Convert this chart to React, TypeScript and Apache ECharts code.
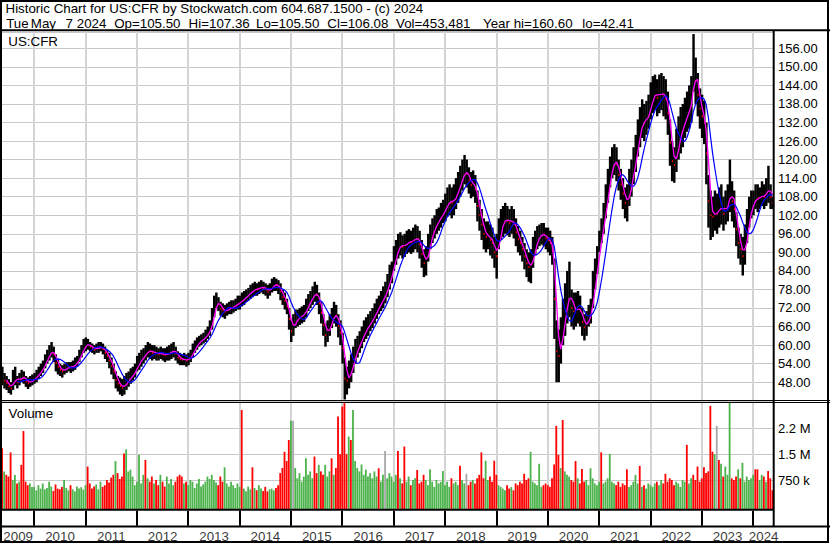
import React, { useEffect, useRef } from "react";
import * as echarts from "echarts";

// ---------------- data (semi-monthly points) ----------------
const years = [2009, 2010, 2011, 2012, 2013, 2014, 2015, 2016, 2017, 2018, 2019, 2020, 2021, 2022, 2023, 2024];
const firstPoint = 2009.375; // mid-May 2009
const pointStep = 1 / 24; // half a month

const h2009 = [53, 51, 50, 49, 48, 52, 53, 50, 51, 52, 51.5, 50, 49.5, 50, 50.5];
const l2009 = [47, 46, 45.5, 44.5, 44, 45.5, 47, 46, 47, 48, 47.5, 46.5, 45.8, 46.5, 47];
const v2009 = [1670, 1000, 900, 850, 1550, 750, 900, 650, 700, 1190, 2170, 700, 600, 650, 550];

const h2010 = [51, 52, 53, 54, 55, 57, 58.5, 60, 61, 59.5, 57, 55.5, 54, 53.5, 54, 54.5, 54.5, 54.5, 55, 56, 56.5, 58.5, 60, 62];
const l2010 = [47.5, 48, 49, 50, 51, 52.5, 54, 55, 56, 54.5, 51.5, 50.5, 50, 49.5, 50.5, 51, 51.5, 51, 51.5, 52, 53, 54.5, 56, 57.5];
const v2010 = [550, 450, 600, 500, 650, 480, 520, 700, 560, 430, 620, 500, 480, 550, 750, 520, 450, 600, 480, 420, 560, 500, 540, 470];

const h2011 = [62.5, 62, 61, 60.5, 60, 60.5, 61, 61, 60.5, 59.5, 58.5, 57.5, 56, 54, 51.5, 50, 49.5, 49, 50, 51, 51.5, 52.5, 53, 54];
const l2011 = [58, 58.5, 58, 57.5, 57, 57.5, 57.5, 58, 57, 55.5, 54.5, 52.5, 50.5, 49, 46, 45, 44, 43.5, 44, 45.5, 46.5, 47.5, 48.5, 49.5];
const v2011 = [600, 1140, 650, 500, 560, 620, 480, 700, 550, 600, 750, 680, 820, 900, 1300, 950, 780, 850, 1520, 1640, 1000, 1050, 850, 600];

const h2012 = [56.5, 57.5, 58.5, 59, 60, 61, 60.5, 60, 60, 59.5, 59, 59.5, 59, 59, 59.5, 60, 60.5, 61, 59.5, 58, 57.5, 57, 57.5, 57];
const l2012 = [51.5, 52, 53, 54, 55, 56, 55.5, 55, 55.5, 55, 55, 55.5, 55, 54.5, 55, 55, 55.5, 56, 55, 54, 53.5, 53.5, 53.5, 53];
const v2012 = [700, 1480, 650, 900, 1330, 800, 700, 850, 650, 750, 600, 900, 700, 560, 850, 650, 780, 600, 700, 850, 900, 850, 650, 700];

const h2013 = [57.5, 58.5, 60.5, 61.5, 62.5, 63, 63.5, 64, 65, 66, 68, 72, 76, 77, 75.5, 74, 73.5, 73, 73.5, 74, 74.5, 74.5, 75, 76];
const l2013 = [53.5, 54.5, 56, 57.5, 58.5, 59.5, 60, 60.5, 61, 62, 63, 65, 69, 72, 71, 69.5, 69, 68.5, 69.5, 70, 70, 70.5, 71, 71.5];
const v2013 = [600, 750, 700, 520, 650, 780, 560, 620, 700, 850, 780, 900, 750, 680, 600, 850, 700, 1120, 650, 560, 700, 600, 520, 650];

const h2014 = [76, 77, 77.5, 78, 78.5, 79.5, 80, 80.5, 80, 80.5, 81, 80.5, 80, 79.5, 80, 81.5, 82, 81.5, 81, 80, 78, 77, 75, 72];
const l2014 = [71.5, 72.5, 73, 74, 74.5, 75, 75.5, 76, 76, 76.5, 77, 76.5, 76, 75, 76, 77, 77.5, 77.5, 76.5, 74.5, 73, 71.5, 70, 65];
const v2014 = [550, 2780, 500, 420, 560, 480, 1120, 520, 450, 600, 500, 430, 550, 420, 480, 500, 450, 520, 600, 950, 1100, 1570, 1300, 1910];

const h2015 = [68, 70, 71.5, 71.5, 72, 72.5, 73, 75, 76.5, 77.5, 79, 80.5, 79.5, 77, 74, 70, 67, 68, 70, 72, 74, 73, 70, 68];
const l2015 = [61, 63, 65.5, 66, 66.5, 67, 67.5, 69, 71, 72, 73, 74, 73, 70, 67, 63, 59.5, 61, 63, 65.5, 67, 66, 62.5, 60];
const v2015 = [2470, 2470, 1100, 800, 950, 700, 850, 1380, 900, 1000, 800, 1430, 950, 1190, 1000, 900, 1190, 850, 1000, 1380, 900, 1100, 2590, 1500];

const h2016 = [64, 56, 53, 55, 57, 59.5, 62, 63, 64.5, 66, 68, 69, 70, 71, 72, 73.5, 75, 76, 77.5, 79, 80.5, 83, 86, 87];
const l2016 = [54, 42.4, 44, 46, 48, 51, 54, 56, 57.5, 59, 61, 62, 63, 64.5, 65.5, 67, 68.5, 70, 71, 72, 73.5, 75.5, 78, 80];
const v2016 = [2880, 2980, 1500, 2010, 1910, 2780, 1300, 1100, 1000, 1200, 900, 1050, 850, 950, 800, 1000, 850, 1090, 700, 900, 1590, 800, 950, 850];

const h2017 = [92, 94, 96, 96.5, 95.5, 96, 97, 97.5, 97, 98, 99, 98.5, 97, 94, 91, 92, 96, 99, 101, 102, 104, 104.5, 106, 107];
const l2017 = [84, 86, 88, 89, 88, 88.5, 89.5, 90, 89.5, 90, 91, 90, 88, 85, 82, 82.5, 87, 91, 93, 94.5, 96, 97, 98, 99.5];
const v2017 = [700, 900, 1590, 800, 650, 1720, 700, 850, 600, 750, 800, 1040, 650, 700, 900, 750, 600, 1060, 700, 550, 750, 650, 700, 1010];

const h2018 = [109, 111, 112, 111, 112, 114, 116, 118, 120, 121.5, 120, 117.5, 116, 116.5, 115, 110, 107, 104, 101, 100, 100, 99, 98, 95];
const l2018 = [100, 101.5, 102, 101, 102, 104, 106, 108, 110, 112, 111, 109, 107.5, 108, 106, 100, 97, 94, 91, 90, 91, 89, 88, 85];
const v2018 = [600, 700, 550, 800, 650, 700, 600, 1160, 750, 650, 930, 600, 700, 750, 650, 800, 900, 1550, 800, 1310, 750, 850, 700, 1310];

const h2019 = [96, 101, 104, 105, 106, 105, 104, 105, 104, 101, 98.5, 97, 95, 93, 91, 90, 91, 95, 97, 98.5, 99, 99.5, 99.5, 98];
const l2019 = [81.5, 91, 94, 95, 96, 95.5, 95, 96, 94.5, 92, 90, 89, 87, 84.5, 82, 80.5, 80, 85, 89, 91, 92, 92.5, 92, 91];
const v2019 = [900, 600, 550, 500, 450, 600, 500, 550, 450, 650, 600, 700, 650, 930, 750, 800, 1570, 700, 650, 600, 1220, 550, 600, 650];

const h2020 = [98, 97, 95, 88, 68, 65, 69, 75, 80, 84, 87, 78, 77, 77, 77.5, 76, 72, 70, 71, 73, 75, 84, 88, 92];
const l2020 = [90, 89, 86, 62, 48, 48, 54, 60, 63, 67, 69, 66, 65, 66, 67, 66, 63, 61.5, 63, 66, 67, 72, 78, 83];
const v2020 = [600, 550, 800, 1200, 2320, 1480, 1100, 2490, 1000, 900, 850, 750, 700, 1300, 800, 650, 1070, 700, 750, 600, 1090, 800, 650, 600];

const h2021 = [97, 101, 106, 112, 117, 121, 124, 125, 124, 120, 117, 114, 111, 112, 117, 120, 124, 128, 133, 137, 139.5, 138, 139, 141];
const l2021 = [90, 93, 96, 101, 106, 111, 114, 115, 113, 110, 107, 104, 101, 100, 105, 108, 112, 116, 121, 124, 127, 126, 128, 130];
const v2021 = [700, 1550, 650, 700, 800, 1510, 700, 650, 600, 700, 550, 650, 600, 1060, 550, 600, 700, 900, 650, 1160, 550, 600, 500, 650];

const h2022 = [145, 147, 147.5, 146, 147.5, 148, 147, 146, 142, 133, 126, 124, 130, 134, 137, 138, 140, 142, 144, 147, 160.6, 153, 148, 143];
const l2022 = [133, 135, 136, 134, 135, 136, 134, 133, 128, 118, 113, 112.5, 116, 120, 122, 124, 127, 129, 130, 132, 142, 138, 134, 130];
const v2022 = [600, 550, 650, 700, 600, 750, 650, 930, 700, 800, 750, 600, 700, 650, 550, 750, 700, 1770, 650, 800, 900, 750, 1140, 700];

const h2023 = [141, 139, 132, 115, 110, 108, 110, 109, 111, 112, 108, 110, 112, 120, 113, 110, 103, 98, 96, 95, 99, 104, 108, 110];
const l2023 = [127, 125, 112, 98, 94, 95, 97, 96, 98, 99, 97, 99, 100, 103, 100, 98, 92, 88, 86, 82.5, 86, 93, 98, 101];
const v2023 = [800, 1120, 950, 1000, 2900, 1570, 1500, 2320, 1330, 1220, 850, 1140, 900, 3000, 800, 750, 850, 1060, 800, 1250, 700, 850, 750, 800];

const h2024 = [110, 112, 112, 111, 113, 112, 114, 118, 112, 108];
const l2024 = [102, 104, 103, 104, 105, 104, 105, 106, 104, 104];
const v2024 = [900, 1060, 1060, 750, 900, 850, 700, 1010, 800, 453];

// volume bar colours (point indexes)
const greenVolIdx = [1, 53, 58, 64, 104, 135, 142, 148, 151, 162, 164, 200, 206, 226, 247, 251, 275, 284, 333, 336, 338, 340, 344, 346];
const grayVolIdx = [136, 179, 217, 334];
const redVolIdx = [0, 4, 9, 10, 40, 57, 67, 112, 117, 132, 134, 146, 154, 157, 159, 160, 163, 176, 185, 188, 194, 214, 224, 230, 244, 259, 260, 262, 268, 271, 280, 292, 298, 310, 320, 323, 325, 328, 331, 332, 335, 352, 353, 358];

const volTickValues = [750000, 1500000, 2250000];
const volTickLabels = ["750 k", "1.5 M", "2.2 M"];

const headerLine1 = "Historic Chart for US:CFR by Stockwatch.com 604.687.1500 - (c) 2024";
const headerParts = ["Tue", "May", "7", "2024", "Op=105.50", "Hi=107.36", "Lo=105.50", "Cl=106.08", "Vol=453,481", "Year hi=160.60", "lo=42.41"];
const headerPartX = [6.2, 30.8, 65.6, 76.8, 114.2, 188.6, 256, 327.3, 396, 483, 582.3];

// ---------------- derived ----------------
const high = [...h2009, ...h2010, ...h2011, ...h2012, ...h2013, ...h2014, ...h2015, ...h2016, ...h2017, ...h2018, ...h2019, ...h2020, ...h2021, ...h2022, ...h2023, ...h2024];
const low = [...l2009, ...l2010, ...l2011, ...l2012, ...l2013, ...l2014, ...l2015, ...l2016, ...l2017, ...l2018, ...l2019, ...l2020, ...l2021, ...l2022, ...l2023, ...l2024];
const volumeK = [...v2009, ...v2010, ...v2011, ...v2012, ...v2013, ...v2014, ...v2015, ...v2016, ...v2017, ...v2018, ...v2019, ...v2020, ...v2021, ...v2022, ...v2023, ...v2024];
const times = high.map((_, i) => firstPoint + i * pointStep);
const mids = high.map((h, i) => (h + low[i]) / 2);

function movingAverage(n: number) {
  const out: number[][] = [];
  for (let i = n - 1; i < mids.length; i++) {
    let s = 0;
    for (let j = i - n + 1; j <= i; j++) s += mids[j];
    out.push([times[i], s / n]);
  }
  return out;
}

const FONT = '"Liberation Sans", Arial, Helvetica, sans-serif';
const GRID_LEFT = 2;
const GRID_RIGHT = 56;
const X_MIN = 2009.371;
const X_MAX = 2024.403;
const GRID_COLOR = "#c8c8c8";
const RED = "#ff0000";
const GREEN = "#4db34d";
const GRAY = "#a8a8a8";

function volColor(i: number) {
  if (greenVolIdx.includes(i)) return GREEN;
  if (grayVolIdx.includes(i)) return GRAY;
  if (redVolIdx.includes(i)) return RED;
  if (i === 0) return RED;
  return mids[i] >= mids[i - 1] ? GREEN : RED;
}

// series holding the year separators: one item per year boundary (index into the point list)
const yearStartIdx = years.slice(1).map((y) => Math.round((y - firstPoint) / pointStep)).filter((k) => k >= 0 && k < times.length);

function yearSeparatorSeries(gridIndex: number, color: string, z: number) {
  return {
    type: "custom",
    xAxisIndex: gridIndex,
    yAxisIndex: gridIndex,
    z,
    silent: true,
    data: yearStartIdx.map((k, j) => [times[k], 0.5, years[j + 1]]),
    encode: { x: 0 },
    renderItem: (params: any, api: any) => {
      const cs = params.coordSys;
      const px = api.coord([api.value(0), 0])[0];
      const x = Math.round(px) - 1;
      return {
        type: "rect",
        shape: { x, y: cs.y, width: 2, height: cs.height },
        style: { fill: color },
      };
    },
  };
}

function buildOption(): any {
  const priceData = times.map((t, i) => [t, low[i], high[i], i > 0 && mids[i] < mids[i - 1] ? 1 : 0]);
  const volData = times.map((t, i) => [t, volumeK[i] * 1000, i]);
  const yearData = years.map((y) => {
    const a = Math.max(y, X_MIN);
    const b = Math.min(y + 1, X_MAX);
    return [(a + b) / 2, 0.5, y];
  });

  const xAxisBase = (gridIndex: number) => ({
    type: "value",
    gridIndex,
    min: X_MIN,
    max: X_MAX,
    axisLine: { show: false },
    axisTick: { show: false },
    axisLabel: { show: false },
    splitLine: { show: false },
  });

  const txt = (text: string, x: number, y: number, size = 13.33) => ({
    type: "text",
    z: 110,
    x,
    y,
    style: { text, fill: "#000", font: `${size}px ${FONT}`, align: "left", verticalAlign: "middle" },
  });
  const ln = (x1: number, y1: number, x2: number, y2: number, w: number) => ({
    type: "line",
    z: 105,
    shape: { x1, y1, x2, y2 },
    style: { stroke: "#000", lineWidth: w },
  });

  const gridBase = { left: GRID_LEFT, right: GRID_RIGHT, containLabel: false };

  return {
    animation: false,
    backgroundColor: "#ffffff",
    grid: [
      { ...gridBase, top: 32, height: 368.75 },
      { ...gridBase, top: 402.45, height: 103.4 },
      { ...gridBase, top: 510.7, height: 15 },
      { ...gridBase, top: 529, height: 14 },
    ],
    xAxis: [xAxisBase(0), xAxisBase(1), xAxisBase(2), xAxisBase(3)],
    yAxis: [
      {
        type: "value",
        gridIndex: 0,
        position: "right",
        min: 42,
        max: 161.27,
        interval: 6,
        axisLine: { show: false },
        axisTick: { show: false },
        axisLabel: {
          show: true,
          margin: 4,
          color: "#000",
          fontFamily: FONT,
          fontSize: 13,
          formatter: (v: number) => (v > 47 && v < 157 ? v.toFixed(2) : ""),
        },
        splitLine: { show: true, lineStyle: { color: GRID_COLOR, width: 1 } },
      },
      {
        type: "value",
        gridIndex: 1,
        position: "right",
        min: 0,
        max: 3000000,
        interval: 750000,
        axisLine: { show: false },
        axisTick: { show: false },
        axisLabel: {
          show: true,
          margin: 4,
          color: "#000",
          fontFamily: FONT,
          fontSize: 13,
          formatter: (v: number) => {
            const i = volTickValues.indexOf(v);
            return i >= 0 ? volTickLabels[i] : "";
          },
        },
        splitLine: { show: true, showMinLine: false, showMaxLine: false, lineStyle: { color: GRID_COLOR, width: 1 } },
      },
      { type: "value", gridIndex: 2, min: 0, max: 1, show: false, splitLine: { show: false } },
      { type: "value", gridIndex: 3, min: 0, max: 1, show: false, splitLine: { show: false } },
    ],
    series: [
      yearSeparatorSeries(0, "#d4d4d4", 2),
      yearSeparatorSeries(1, "#d4d4d4", 2),
      yearSeparatorSeries(2, "#000", 5),
      {
        type: "custom",
        xAxisIndex: 0,
        yAxisIndex: 0,
        z: 2,
        silent: true,
        data: priceData,
        encode: { x: 0, y: [1, 2] },
        renderItem: (params: any, api: any) => {
          const t = api.value(0);
          const lo = api.value(1);
          const hi = api.value(2);
          const dn = api.value(3);
          const pTop = api.coord([t, hi]);
          const pBot = api.coord([t, lo]);
          const w = api.size([pointStep, 0])[0];
          const children: any[] = [
            {
              type: "rect",
              shape: { x: pTop[0] - w / 2, y: pTop[1], width: w + 0.3, height: Math.max(1, pBot[1] - pTop[1]) },
              style: { fill: "#000" },
            },
          ];
          if (dn) {
            const pm = api.coord([t, (hi + lo) / 2]);
            children.push({
              type: "rect",
              shape: { x: pTop[0] + w / 2 - 1.2, y: pm[1] - 1, width: 1.6, height: 2 },
              style: { fill: RED },
            });
          }
          return { type: "group", children };
        },
      },
      {
        type: "line",
        xAxisIndex: 0,
        yAxisIndex: 0,
        z: 3,
        silent: true,
        showSymbol: false,
        data: movingAverage(3),
        lineStyle: { color: "#ff00ff", width: 1.3 },
      },
      {
        type: "line",
        xAxisIndex: 0,
        yAxisIndex: 0,
        z: 4,
        silent: true,
        showSymbol: false,
        data: movingAverage(8),
        lineStyle: { color: "#0000ff", width: 1.2 },
      },
      {
        type: "custom",
        xAxisIndex: 1,
        yAxisIndex: 1,
        z: 2,
        silent: true,
        data: volData,
        encode: { x: 0, y: 1 },
        renderItem: (params: any, api: any) => {
          const t = api.value(0);
          const v = api.value(1);
          const idx = api.value(2);
          const p = api.coord([t, v]);
          const base = params.coordSys.y + params.coordSys.height + 3.2;
          const w = api.size([pointStep, 0])[0];
          return {
            type: "rect",
            shape: { x: p[0] - w / 2, y: p[1], width: w * 0.85, height: base - p[1] },
            style: { fill: volColor(idx) },
          };
        },
      },
      {
        type: "scatter",
        xAxisIndex: 3,
        yAxisIndex: 3,
        silent: true,
        symbolSize: 1,
        itemStyle: { color: "rgba(0,0,0,0)" },
        data: yearData,
        label: {
          show: true,
          position: "inside",
          color: "#000",
          fontFamily: FONT,
          fontSize: 13.33,
          formatter: (p: any) => String(p.value[2]),
        },
      },
    ],
    graphic: [
      { type: "rect", z: 105, shape: { x: 1, y: 1, width: 827, height: 541 }, style: { fill: "none", stroke: "#000", lineWidth: 2 } },
      ln(0, 30.3, 830, 30.3, 2),
      ln(773.7, 30, 773.7, 527, 2),
      ln(0, 400.5, 830, 400.5, 1),
      ln(0, 402.5, 830, 402.5, 1),
      ln(0, 509.7, 774, 509.7, 2),
      ln(0, 526.5, 830, 526.5, 2),
      txt(headerLine1, 5.5, 8.7),
      ...headerParts.map((s, i) => txt(s, headerPartX[i], 23.7)),
      txt("US:CFR", 8.3, 41.3),
      txt("Volume", 8.6, 413.7),
    ],
  };
}

export default function App() {
  const ref = useRef<HTMLDivElement | null>(null);
  useEffect(() => {
    if (!ref.current) return;
    const chart = echarts.init(ref.current, undefined, { renderer: "svg" });
    chart.setOption(buildOption());
    return () => chart.dispose();
  }, []);
  return (
    <div
      ref={ref}
      style={{ position: "absolute", left: 0, top: 0, width: 830, height: 543, background: "#fff" }}
    />
  );
}
